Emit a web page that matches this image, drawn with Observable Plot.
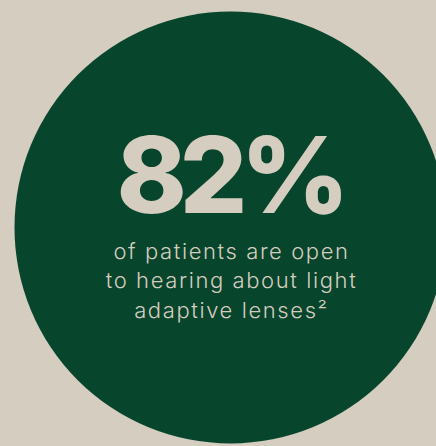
<!DOCTYPE html>
<html>
<head>
<meta charset="utf-8">
<script src="https://cdn.jsdelivr.net/npm/d3@7"></script>
<script src="https://cdn.jsdelivr.net/npm/@observablehq/plot@0.6"></script>
<style>
  html, body { margin: 0; padding: 0; background: #d5cdbf; overflow: hidden; }
  #chart svg { display: block; overflow: visible; }
</style>
</head>
<body>
<div id="chart"></div>
<script>
// Data
const statValue = [82];
const statUnit = "%";
const statLabelLines = ["of patients are open", "to hearing about light", "adaptive lenses\u00b2"];

const BG = "#d5cdbf";
const GREEN = "#07452c";

const chart = Plot.plot({
  width: 436,
  height: 446,
  marginLeft: 24,
  marginRight: 0,
  marginTop: 8,
  marginBottom: 0,
  style: { background: "transparent", overflow: "visible" },
  x: { axis: null },
  y: { axis: null },
  marks: [
    Plot.dot(statValue, { frameAnchor: "middle", r: 216, fill: GREEN, stroke: "none" }),
    Plot.text(statValue, {
      frameAnchor: "middle",
      text: d => `${d}${statUnit}`,
      fill: BG,
      fontFamily: "Inter",
      fontWeight: 800,
      fontSize: 106,
      lineAnchor: "bottom",
      dx: -1,
      dy: -15
    }),
    Plot.text([statLabelLines.join("\n")], {
      frameAnchor: "middle",
      text: d => d,
      fill: BG,
      fontFamily: "Inter",
      fontWeight: 300,
      fontSize: 22,
      lineHeight: 1.34,
      lineAnchor: "bottom",
      dx: 1,
      dy: 90
    })
  ]
});
// letter spacing (not a Plot text option) applied after render
const textGroups = d3.select(chart).selectAll("g[aria-label='text']").nodes();
if (textGroups[0]) d3.select(textGroups[0]).attr("letter-spacing", "-7px");
if (textGroups[1]) d3.select(textGroups[1]).attr("letter-spacing", "1.6px");
document.getElementById("chart").appendChild(chart);
</script>
</body>
</html>
